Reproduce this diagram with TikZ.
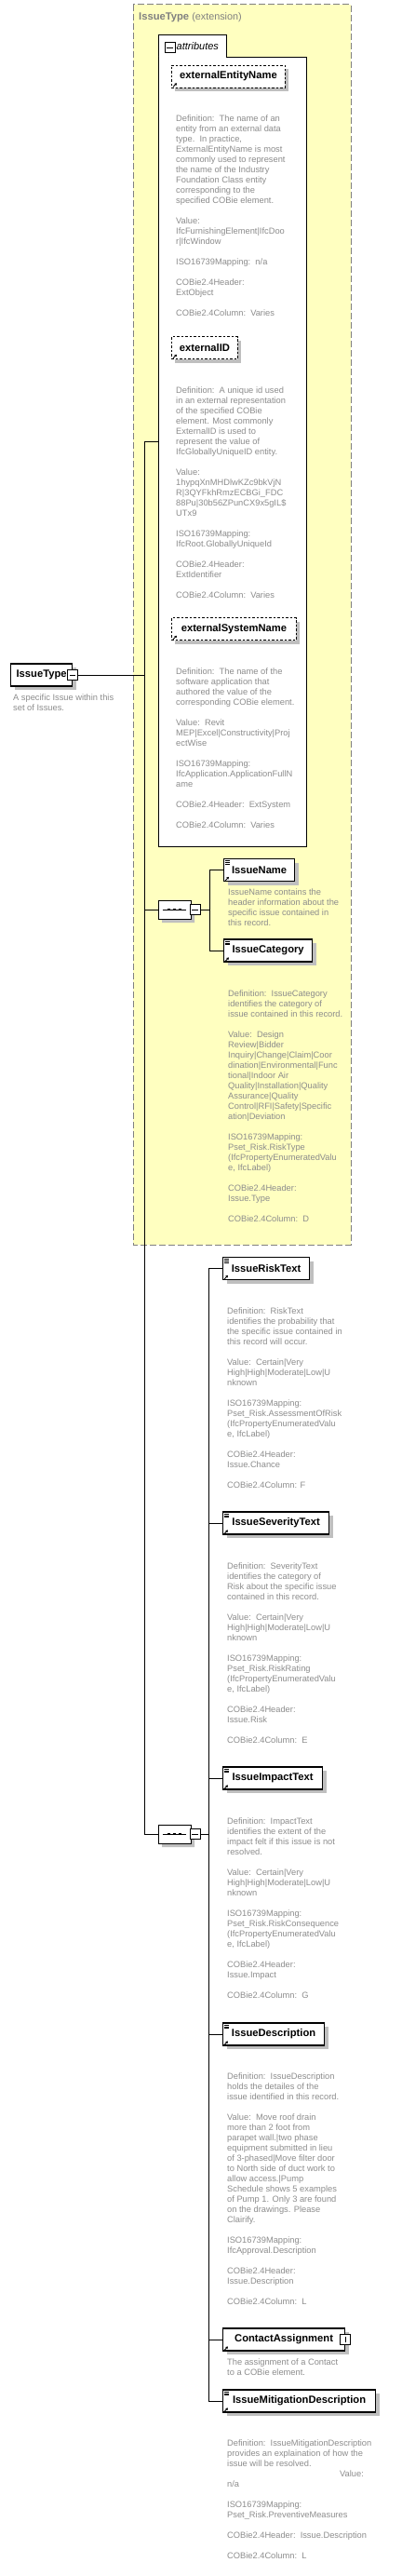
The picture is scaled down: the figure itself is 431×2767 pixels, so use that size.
\documentclass[tikz,border=0pt]{standalone}
\usepackage{fontspec}
\setmainfont{Liberation Sans}
\usetikzlibrary{arrows.meta,shapes.misc,shadows}
\definecolor{typeyellow}{RGB}{255,255,192}
\definecolor{descgray}{RGB}{140,140,140}
\definecolor{framegray}{RGB}{128,128,128}
\newcommand{\desctext}{\fontsize{9.3}{11}\selectfont}
\newcommand{\nametext}{\fontsize{11.2}{13}\selectfont\bfseries}
\newcommand{\refarrow}[1]{\draw[line width=0.9pt,-{Triangle[length=2.4pt,width=2.8pt]}] ([shift={(2pt,1.2pt)}]#1.south west) -- ++(4pt,4pt);}
\newcommand{\docicon}[1]{\foreach \k in {2.6,4.4,6.2} {\draw[line width=0.6pt] ([shift={(1.6pt,-\k pt)}]#1.north west) -- ++(5pt,0pt);}}
\newcommand{\seqdots}[1]{\draw[line width=0.8pt] ([xshift=5pt]#1.west) -- ([xshift=-5pt]#1.east);
	\foreach \d in {-6,0,6} {\fill ([shift={(\d pt-1.3pt,-1.3pt)}]#1.center) rectangle ++(2.6pt,2.6pt);}}

\begin{document}
\begin{tikzpicture}[x=1pt,y=-1pt,
		elem/.style={draw,line width=1.2pt,fill=white,minimum height=24pt,inner sep=0pt,anchor=west,font=\nametext,
			general shadow={fill=black!25,shadow xshift=4pt,shadow yshift=-4pt}},
		attrbox/.style={elem,line width=0.9pt,dash pattern=on 2.5pt off 2pt},
		desc/.style={anchor=north west,inner sep=0pt,align=left,text=descgray,font=\desctext},
		seqbox/.style={chamfered rectangle,chamfered rectangle xsep=6pt,chamfered rectangle ysep=6pt,draw,line width=0.9pt,fill=white,
			minimum width=35pt,minimum height=20pt,inner sep=0pt,general shadow={fill=black!25,shadow xshift=4pt,shadow yshift=-4pt}},
		minusbox/.style={draw,line width=1pt,fill=white,minimum size=11pt,inner sep=0pt,
			path picture={\draw[line width=0.8pt] ([xshift=2.3pt]path picture bounding box.west) -- ([xshift=-2.3pt]path picture bounding box.east);}},
		plusbox/.style={minusbox,
			path picture={\draw[line width=0.8pt] ([yshift=2.3pt]path picture bounding box.south) -- ([yshift=-2.3pt]path picture bounding box.north);}}]
	\useasboundingbox (0,0) rectangle (431,2767);

	% extension frame
	\draw[framegray,fill=typeyellow,line width=1pt,dash pattern=on 7pt off 3pt] (143,5) rectangle (377,1337);
	\node[anchor=west,inner sep=0pt,text=framegray] (typeTitle) at (149,19) {\nametext IssueType \mdseries\fontsize{10.8}{13}\selectfont(extension)};

	% global element
	\node[elem,minimum width=66pt] (issueType) at (11,725) {IssueType};
	\node[minusbox] (issueTypeMinus) at (issueType.east) {};
	\node[desc] (issueTypeDoc) at (14,746) {A specific Issue within this\\set of Issues.};

	% attributes
	\node[draw,fill=white,line width=1pt,anchor=north west,minimum width=159pt,minimum height=848pt,inner sep=0pt] (attrs) at (170,61) {};
	\node[draw,fill=white,line width=1pt,anchor=south west,minimum width=73pt,minimum height=23pt,inner sep=0pt] (attrTab) at (170,61) {};
	\draw[white,line width=1.3pt] ([xshift=0.6pt]attrTab.south west) -- ([xshift=-0.6pt]attrTab.south east);
	\node[minusbox] (attrMinus) at (182.5,51.5) {};
	\node[anchor=west,inner sep=0pt,font=\fontsize{11}{13}\selectfont\itshape] (attrLabel) at (189.5,50) {attributes};
	\coordinate (attrIn) at (170,474);

	\node[attrbox,minimum width=122pt] (extEntity) at (184,82) {externalEntityName};
	\refarrow{extEntity}
	\node[desc] (extEntityDoc) at (189,124) {Definition:\ \ The name of an\\
		entity from an external data\\
		type.\ \ In practice,\\
		ExternalEntityName is most\\
		commonly used to represent\\
		the name of the Industry\\
		Foundation Class entity\\
		corresponding to the\\
		specified COBie element.\\[11pt]
		Value:\\
		IfcFurnishingElement|IfcDoo\\
		r|IfcWindow\\[11pt]
		ISO16739Mapping:\ \ n/a\\[11pt]
		COBie2.4Header:\\
		ExtObject\\[11pt]
		COBie2.4Column:\ \ Varies};

	\node[attrbox,minimum width=71pt] (extID) at (184,373.5) {externalID};
	\refarrow{extID}
	\node[desc] (extIDDoc) at (189,416) {Definition:\ \ A unique id used\\
		in an external representation\\
		of the specified COBie\\
		element. Most commonly\\
		ExternalID is used to\\
		represent the value of\\
		IfcGloballyUniqueID entity.\\[11pt]
		Value:\\
		1hypqXnMHDlwKZc9bkVjN\\
		R|3QYFkhRmzECBGi\_FDC\\
		88Pu|30b56ZPunCX9x5gIL\$\\
		UTx9\\[11pt]
		ISO16739Mapping:\\
		IfcRoot.GloballyUniqueId\\[11pt]
		COBie2.4Header:\\
		ExtIdentifier\\[11pt]
		COBie2.4Column:\ \ Varies};

	\node[attrbox,minimum width=134pt] (extSystem) at (184,675.5) {externalSystemName};
	\refarrow{extSystem}
	\node[desc] (extSystemDoc) at (189,718) {Definition:\ \ The name of the\\
		software application that\\
		authored the value of the\\
		corresponding COBie element.\\[11pt]
		Value:\ \ Revit\\
		MEP|Excel|Constructivity|Proj\\
		ectWise\\[11pt]
		ISO16739Mapping:\\
		IfcApplication.ApplicationFullN\\
		ame\\[11pt]
		COBie2.4Header:\ \ ExtSystem\\[11pt]
		COBie2.4Column:\ \ Varies};

	% first sequence
	\node[seqbox] (seqA) at (187.5,977) {};
	\seqdots{seqA}
	\node[minusbox] (seqAMinus) at (209.5,977) {};
	\coordinate (busA) at (225,977);

	\node[elem,minimum width=76pt] (issueName) at (240,934.5) {IssueName};
	\docicon{issueName}
	\refarrow{issueName}
	\node[desc] (issueNameDoc) at (245,955) {IssueName contains the\\
		header information about the\\
		specific issue contained in\\
		this record.};

	\node[elem,minimum width=95pt] (issueCategory) at (240,1021) {IssueCategory};
	\docicon{issueCategory}
	\refarrow{issueCategory}
	\node[desc] (issueCategoryDoc) at (245,1064) {Definition:\ \ IssueCategory\\
		identifies the category of\\
		issue contained in this record.\\[11pt]
		Value:\ \ Design\\
		Review|Bidder\\
		Inquiry|Change|Claim|Coor\\
		dination|Environmental|Func\\
		tional|Indoor Air\\
		Quality|Installation|Quality\\
		Assurance|Quality\\
		Control|RFI|Safety|Specific\\
		ation|Deviation\\[11pt]
		ISO16739Mapping:\\
		Pset\_Risk.RiskType\\
		(IfcPropertyEnumeratedValu\\
		e, IfcLabel)\\[11pt]
		COBie2.4Header:\\
		Issue.Type\\[11pt]
		COBie2.4Column:\ \ D};

	% second sequence
	\node[seqbox] (seqB) at (187.5,1970) {};
	\seqdots{seqB}
	\node[minusbox] (seqBMinus) at (209.5,1970) {};
	\coordinate (busB) at (224,1970);

	\node[elem,minimum width=93pt] (riskText) at (239,1362.5) {IssueRiskText};
	\docicon{riskText}
	\refarrow{riskText}
	\node[desc] (riskTextDoc) at (244,1405) {Definition:\ \ RiskText\\
		identifies the probability that\\
		the specific issue contained in\\
		this record will occur.\\[11pt]
		Value:\ \ Certain|Very\\
		High|High|Moderate|Low|U\\
		nknown\\[11pt]
		ISO16739Mapping:\\
		Pset\_Risk.AssessmentOfRisk\\
		(IfcPropertyEnumeratedValu\\
		e, IfcLabel)\\[11pt]
		COBie2.4Header:\\
		Issue.Chance\\[11pt]
		COBie2.4Column: F};

	\node[elem,minimum width=114pt] (severityText) at (239,1636) {IssueSeverityText};
	\docicon{severityText}
	\refarrow{severityText}
	\node[desc] (severityTextDoc) at (244,1679) {Definition:\ \ SeverityText\\
		identifies the category of\\
		Risk about the specific issue\\
		contained in this record.\\[11pt]
		Value:\ \ Certain|Very\\
		High|High|Moderate|Low|U\\
		nknown\\[11pt]
		ISO16739Mapping:\\
		Pset\_Risk.RiskRating\\
		(IfcPropertyEnumeratedValu\\
		e, IfcLabel)\\[11pt]
		COBie2.4Header:\\
		Issue.Risk\\[11pt]
		COBie2.4Column:\ \ E};

	\node[elem,minimum width=107pt] (impactText) at (239,1910) {IssueImpactText};
	\docicon{impactText}
	\refarrow{impactText}
	\node[desc] (impactTextDoc) at (244,1953) {Definition:\ \ ImpactText\\
		identifies the extent of the\\
		impact felt if this issue is not\\
		resolved.\\[11pt]
		Value:\ \ Certain|Very\\
		High|High|Moderate|Low|U\\
		nknown\\[11pt]
		ISO16739Mapping:\\
		Pset\_Risk.RiskConsequence\\
		(IfcPropertyEnumeratedValu\\
		e, IfcLabel)\\[11pt]
		COBie2.4Header:\\
		Issue.Impact\\[11pt]
		COBie2.4Column:\ \ G};

	\node[elem,minimum width=109pt] (issueDescription) at (239,2185) {IssueDescription};
	\docicon{issueDescription}
	\refarrow{issueDescription}
	\node[desc] (issueDescriptionDoc) at (244,2227) {Definition:\ \ IssueDescription\\
		holds the detailes of the\\
		issue identified in this record.\\[11pt]
		Value:\ \ Move roof drain\\
		more than 2 foot from\\
		parapet wall.|two phase\\
		equipment submitted in lieu\\
		of 3-phased|Move filter door\\
		to North side of duct work to\\
		allow access.|Pump\\
		Schedule shows 5 examples\\
		of Pump 1. Only 3 are found\\
		on the drawings. Please\\
		Clairify.\\[11pt]
		ISO16739Mapping:\\
		IfcApproval.Description\\[11pt]
		COBie2.4Header:\\
		Issue.Description\\[11pt]
		COBie2.4Column:\ \ L};

	\node[elem,minimum width=131pt] (contactAssign) at (239,2513) {ContactAssignment\hspace{9pt}};
	\refarrow{contactAssign}
	\node[plusbox] (contactPlus) at (contactAssign.east) {};
	\node[desc] (contactAssignDoc) at (244,2534) {The assignment of a Contact\\
		to a COBie element.};

	\node[elem,minimum width=164pt] (mitigation) at (239,2579) {IssueMitigationDescription};
	\docicon{mitigation}
	\refarrow{mitigation}
	\node[desc] (mitigationDoc) at (244,2621) {Definition:\ \ IssueMitigationDescription\\
		provides an explaination of how the\\
		issue will be resolved.\\
		\hspace*{121pt}Value:\\
		n/a\\[11pt]
		ISO16739Mapping:\\
		Pset\_Risk.PreventiveMeasures\\[11pt]
		COBie2.4Header:\ \ Issue.Description\\[11pt]
		COBie2.4Column:\ \ L};

	% connectors
	\coordinate (spine) at (155,725);
	\draw[line width=1pt] (issueTypeMinus.east) -- (spine);
	\foreach \n in {attrIn,seqA.west,seqB.west} {
		\draw[line width=1pt] (spine) |- (\n);
	}
	\draw[line width=1pt] (seqAMinus.east) -- (busA);
	\foreach \n in {issueName,issueCategory} {
		\draw[line width=1pt] (busA) |- (\n.west);
	}
	\draw[line width=1pt] (seqBMinus.east) -- (busB);
	\foreach \n in {riskText,severityText,impactText,issueDescription,contactAssign,mitigation} {
		\draw[line width=1pt] (busB) |- (\n.west);
	}
\end{tikzpicture}
\end{document}
